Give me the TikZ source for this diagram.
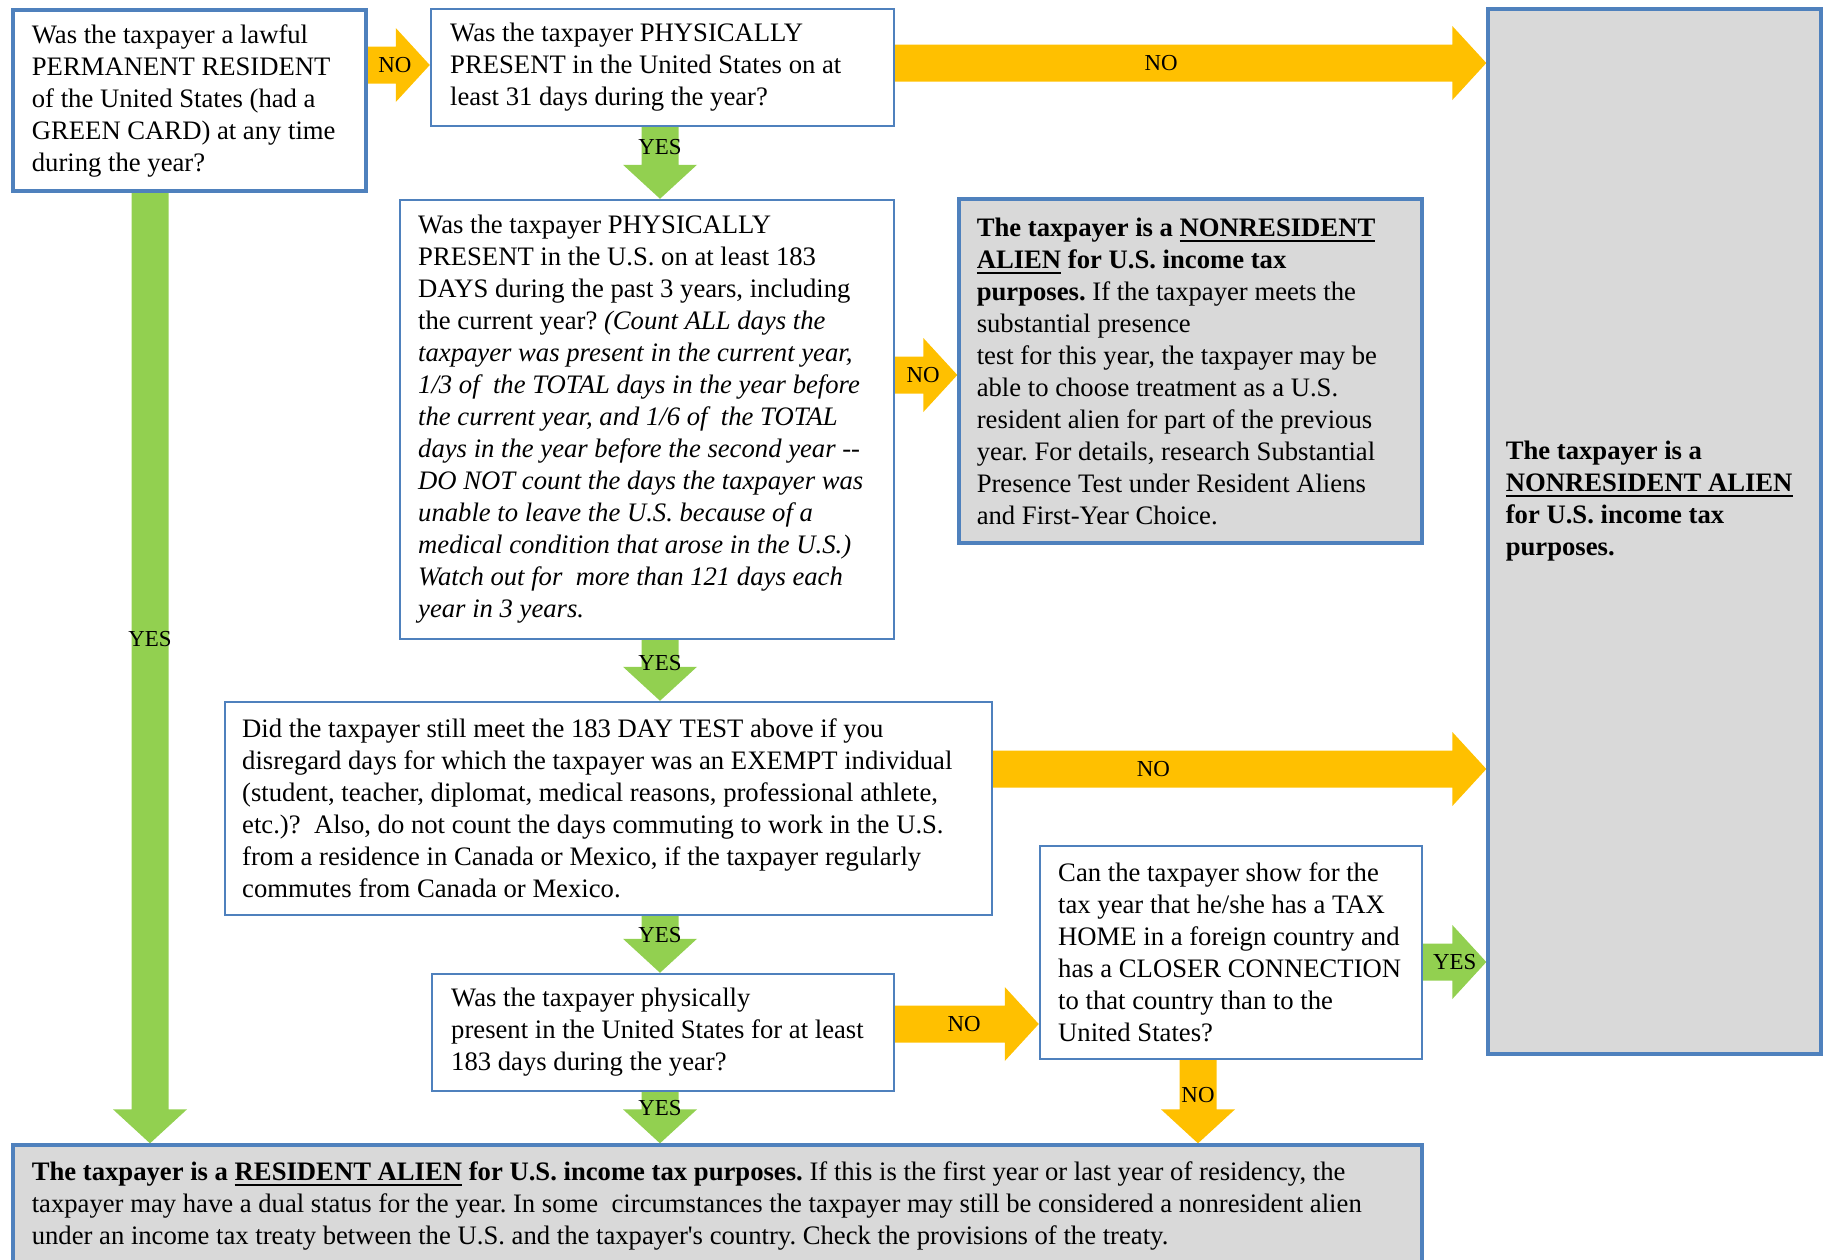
\documentclass[tikz,border=0pt]{standalone}
\usepackage{fontspec}
\setmainfont{Liberation Serif}
\usetikzlibrary{calc,backgrounds}
\definecolor{bord}{HTML}{4F81BD}
\definecolor{yel}{HTML}{FFC000}
\definecolor{grn}{HTML}{92D050}
\definecolor{gry}{HTML}{D9D9D9}
\frenchspacing
\newcommand{\thul}[1]{\setbox0\hbox{#1}\rlap{\rule[-2.6pt]{\wd0}{1pt}}\box0\relax}
\newcommand{\rarr}[5]{%
  \fill[#3] ($(#1)+(0,-18.5)$) -- ($(#2)+(-34,-18.5)$) -- ($(#2)+(-34,-37)$) -- (#2)
    -- ($(#2)+(-34,37)$) -- ($(#2)+(-34,18.5)$) -- ($(#1)+(0,18.5)$) -- cycle;
  \node[lbl] (l-#1) at ($(#1)!#5!(#2)$) {#4};}
\newcommand{\darr}[5]{%
  \fill[#3] ($(#1)+(-18.5,0)$) -- ($(#2)+(-18.5,-34)$) -- ($(#2)+(-37,-34)$) -- (#2)
    -- ($(#2)+(37,-34)$) -- ($(#2)+(18.5,-34)$) -- ($(#1)+(18.5,0)$) -- cycle;
  \node[lbl] (l-#1) at ($(#1)!#5!(#2)$) {#4};}
\tikzset{
  qbox/.style={draw=bord, line width=1.1pt, fill=white, inner sep=0pt},
  abox/.style={draw=bord, line width=1.5pt, fill=gry, inner sep=0pt},
  txt/.style={align=left, inner sep=0pt, font=\fontsize{12}{14.4}\selectfont},
  lbl/.style={inner sep=0pt, font=\fontsize{10.3}{12}\selectfont}
}
\begin{document}
\begin{tikzpicture}[x=0.45pt, y=-0.45pt]
\useasboundingbox (0,0) rectangle (1825,1260);

% boxes
\node[qbox, line width=1.4pt, minimum width=158.85pt, minimum height=81.45pt] (A) at (189.5,100.5) {};
\node[qbox, minimum width=208.35pt, minimum height=52.65pt] (B) at (662.5,67.5) {};
\node[qbox, minimum width=222.3pt, minimum height=197.55pt] (C) at (647,419.5) {};
\node[abox, minimum width=208.35pt, minimum height=154.8pt] (D) at (1190.5,371) {};
\node[qbox, minimum width=345.15pt, minimum height=95.85pt] (E) at (608.5,808.5) {};
\node[qbox, minimum width=207.9pt, minimum height=52.65pt] (F) at (663,1032.5) {};
\node[qbox, minimum width=171.9pt, minimum height=95.85pt] (G) at (1231,952.5) {};
\node[abox, minimum width=634.05pt, minimum height=55.35pt] (H) at (717.5,1206.5) {};
\node[abox, minimum width=149.85pt, minimum height=470.25pt] (NRA) at (1654.5,531.5) {};

% texts
\node[txt, anchor=west] (At) at ($(A.west)+(20,0)$) {Was the taxpayer a lawful\\ PERMANENT RESIDENT\\ of the United States (had a\\ GREEN CARD) at any time\\ during the year?};
\node[txt, anchor=west] (Bt) at ($(B.west)+(20,0)$) {Was the taxpayer PHYSICALLY\\ PRESENT in the United States on at\\ least 31 days during the year?};
\node[txt, anchor=west] (Ct) at ($(C.west)+(19,0)$) {Was the taxpayer PHYSICALLY\\ PRESENT in the U.S. on at least 183\\ DAYS during the past 3 years, including\\ the current year? \textit{(Count ALL days the}\\ \textit{taxpayer was present in the current year,}\\ \textit{1/3 of \ the TOTAL days in the year before}\\ \textit{the current year, and 1/6 of \ the TOTAL}\\ \textit{days in the year before the second year -{}-}\\ \textit{DO NOT count the days the taxpayer was}\\ \textit{unable to leave the U.S. because of a}\\ \textit{medical condition that arose in the U.S.)}\\ \textit{Watch out for \ more than 121 days each}\\ \textit{year in 3 years.}};
\node[txt, anchor=west] (Dt) at ($(D.west)+(19,0)$) {\textbf{The taxpayer is a \thul{NONRESIDENT}}\\ \textbf{\thul{ALIEN} for U.S. income tax}\\ \textbf{purposes.} If the taxpayer meets the\\ substantial presence\\ test for this year, the taxpayer may be\\ able to choose treatment as a U.S.\\ resident alien for part of the previous\\ year. For details, research Substantial\\ Presence Test under Resident Aliens\\ and First-Year Choice.};
\node[txt, anchor=west] (Et) at ($(E.west)+(18,0)$) {Did the taxpayer still meet the 183 DAY TEST above if you\\ disregard days for which the taxpayer was an EXEMPT individual\\ (student, teacher, diplomat, medical reasons, professional athlete,\\ etc.)? \ Also, do not count the days commuting to work in the U.S.\\ from a residence in Canada or Mexico, if the taxpayer regularly\\ commutes from Canada or Mexico.};
\node[txt, anchor=west] (Ft) at ($(F.west)+(20,0)$) {Was the taxpayer physically\\ present in the United States for at least\\ 183 days during the year?};
\node[txt, anchor=west] (Gt) at ($(G.west)+(19,0)$) {Can the taxpayer show for the\\ tax year that he/she has a TAX\\ HOME in a foreign country and\\ has a CLOSER CONNECTION\\ to that country than to the\\ United States?};
\node[txt, anchor=west] (Ht) at ($(H.west)+(20,-1)$) {\textbf{The taxpayer is a \thul{RESIDENT ALIEN} for U.S. income tax purposes.} If this is the first year or last year of residency, the\\ taxpayer may have a dual status for the year. In some \ circumstances the taxpayer may still be considered a nonresident alien\\ under an income tax treaty between the U.S. and the taxpayer\textquotesingle s country. Check the provisions of the treaty.};
\node[txt, anchor=west, font=\bfseries\fontsize{12}{14.4}\selectfont] (NRAt) at ($(NRA.west |- 0,501)+(19,0)$) {The taxpayer is a\\ \thul{NONRESIDENT ALIEN}\\ for U.S. income tax\\ purposes.};

% connector end points
\coordinate (abS) at (A.east |- 0,65);   \coordinate (abT) at (B.west |- 0,65);
\coordinate (bnS) at (B.east |- 0,63);   \coordinate (bnT) at (NRA.west |- 0,63);
\coordinate (bcS) at (B.south -| 660,0); \coordinate (bcT) at (C.north -| 660,0);
\coordinate (cdS) at (C.east |- 0,375);  \coordinate (cdT) at (D.west |- 0,375);
\coordinate (ceS) at (C.south -| 660,0); \coordinate (ceT) at (E.north -| 660,0);
\coordinate (enS) at (E.east |- 0,769);  \coordinate (enT) at (NRA.west |- 0,769);
\coordinate (efS) at (E.south -| 660,0); \coordinate (efT) at (F.north -| 660,0);
\coordinate (fgS) at (F.east |- 0,1024); \coordinate (fgT) at (G.west |- 0,1024);
\coordinate (gnS) at (G.east |- 0,962);  \coordinate (gnT) at (NRA.west |- 0,962);
\coordinate (ghS) at (G.south -| 1198,0); \coordinate (ghT) at (H.north -| 1198,0);
\coordinate (fhS) at (F.south -| 660,0); \coordinate (fhT) at (H.north -| 660,0);
\coordinate (ahS) at (A.south -| 150,0); \coordinate (ahT) at (H.north -| 150,0);

\begin{scope}[on background layer]
\rarr{abS}{abT}{yel}{NO}{0.44}
\rarr{bnS}{bnT}{yel}{NO}{0.45}
\darr{bcS}{bcT}{grn}{YES}{0.27}
\rarr{cdS}{cdT}{yel}{NO}{0.45}
\darr{ceS}{ceT}{grn}{YES}{0.37}
\rarr{enS}{enT}{yel}{NO}{0.325}
\darr{efS}{efT}{grn}{YES}{0.34}
\rarr{fgS}{fgT}{yel}{NO}{0.48}
\rarr{gnS}{gnT}{grn}{YES}{0.5}
\darr{ghS}{ghT}{yel}{NO}{0.42}
\darr{fhS}{fhT}{grn}{YES}{0.31}
\darr{ahS}{ahT}{grn}{YES}{0.47}
\end{scope}
\end{tikzpicture}
\end{document}
